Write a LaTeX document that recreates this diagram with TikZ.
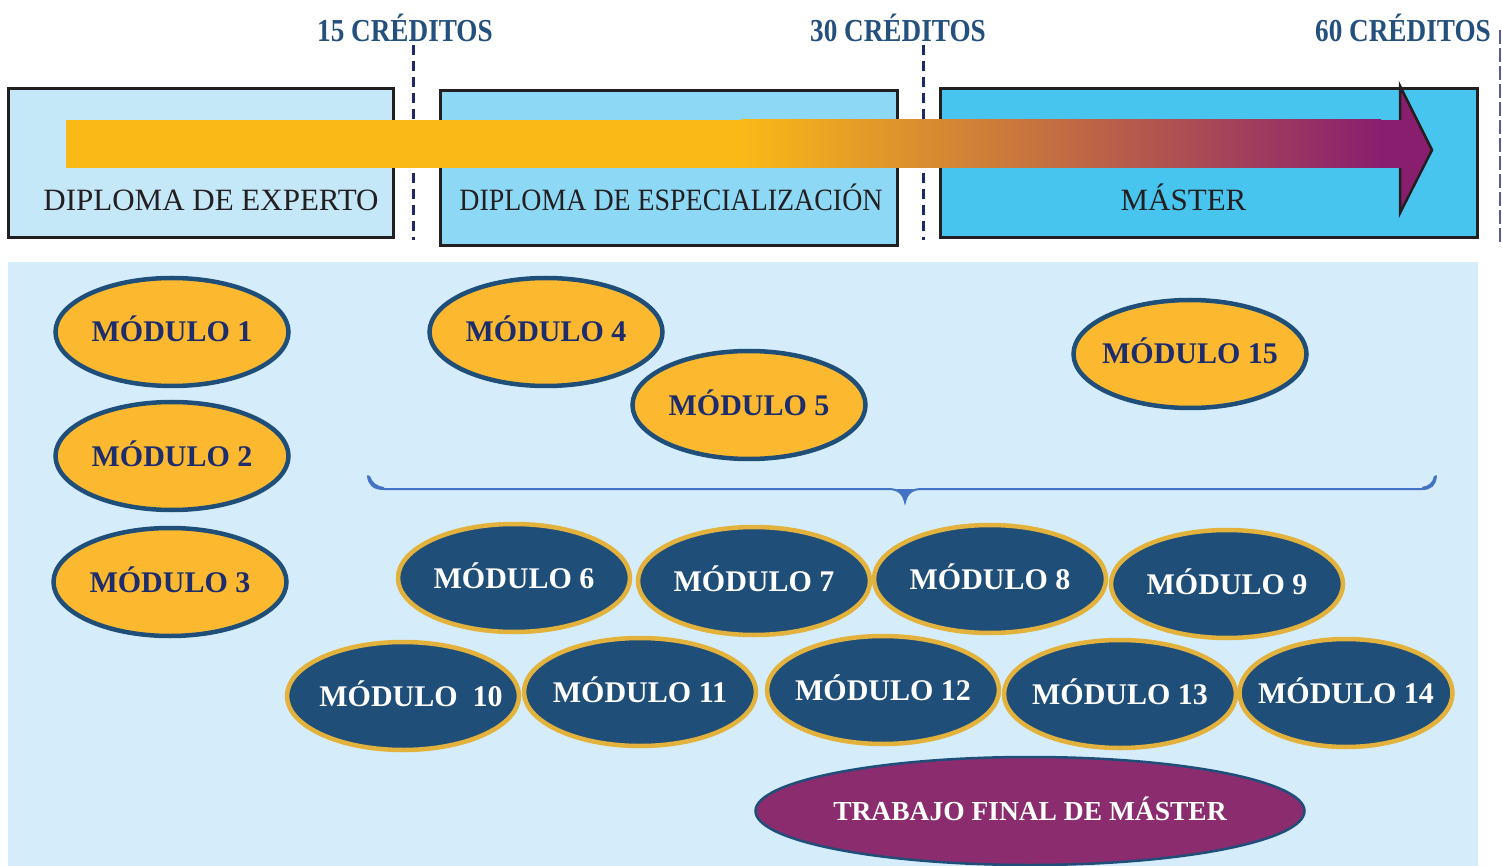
\documentclass[tikz,border=0pt]{standalone}
\usepackage{fontspec}
\setmainfont{Liberation Serif}
\usetikzlibrary{shapes.geometric}
\definecolor{boxA}{HTML}{C5E8F8}
\definecolor{boxB}{HTML}{8DD8F5}
\definecolor{boxC}{HTML}{48C5EF}
\definecolor{boxline}{HTML}{231F20}
\definecolor{panel}{HTML}{D5EDFA}
\definecolor{credit}{HTML}{24507E}
\definecolor{dashnavy}{HTML}{1B2A6B}
\definecolor{dashright}{HTML}{5A5A9A}
\definecolor{arrowyellow}{HTML}{FAB917}
\definecolor{arrowpurple}{HTML}{8A1E6E}
\definecolor{modyellow}{HTML}{FCB930}
\definecolor{modblue}{HTML}{1F4E79}
\definecolor{modgold}{HTML}{E3B23C}
\definecolor{navytext}{HTML}{1C2C6C}
\definecolor{tfmpurple}{HTML}{8A2C6E}
\definecolor{bracecol}{HTML}{4472C4}
\newcommand{\zw}[1]{\makebox[0pt]{#1}}
\tikzset{
  creditlbl/.style={text=credit, font=\bfseries\fontsize{32}{32}\selectfont, inner sep=0pt, text height=21pt, text depth=0pt},
  diplbox/.style={draw=boxline, line width=3pt, rectangle, inner sep=0pt},
  dipltext/.style={text=boxline, font=\fontsize{31}{31}\selectfont, inner sep=0pt, text height=20.5pt, text depth=0pt},
  creditline/.style={draw=dashnavy, line width=3pt, dash pattern=on 10pt off 6pt},
  ymod/.style={ellipse, draw=modblue, line width=4.5pt, fill=modyellow, minimum width=233pt, minimum height=108pt, inner sep=0pt, font=\bfseries\fontsize{30}{30}\selectfont, text=navytext, text height=20pt, text depth=0pt},
  bmod/.style={ellipse, draw=modgold, line width=4.5pt, fill=modblue, minimum width=232pt, minimum height=108pt, inner sep=0pt, font=\bfseries\fontsize{30}{30}\selectfont, text=white, text height=20pt, text depth=0pt},
  tfm/.style={ellipse, draw=modblue, line width=2.5pt, fill=tfmpurple, minimum width=549pt, minimum height=108pt, inner sep=0pt, font=\bfseries\fontsize{27.5}{27.5}\selectfont, text=white, text height=18pt, text depth=0pt},
  bracestyle/.style={draw=bracecol, line width=2pt, line cap=round},
}
\begin{document}
\begin{tikzpicture}[x=1pt,y=-1pt]
\useasboundingbox (0,0) rectangle (1502,866);
% credits labels
\node[creditlbl] (c15) at (405,31) {\scalebox{0.85}[1]{15 CRÉDITOS}};
\node[creditlbl] (c30) at (898,31) {\scalebox{0.85}[1]{30 CRÉDITOS}};
\node[creditlbl] (c60) at (1403,31) {\scalebox{0.85}[1]{60 CRÉDITOS}};
% dashed lines
\coordinate (d15a) at (413,45); \coordinate (d15b) at (413,240);
\coordinate (d30a) at (923,45); \coordinate (d30b) at (923,240);
\coordinate (d60a) at (1500,30); \coordinate (d60b) at (1500,246);
\draw[creditline] (d15a) -- (d15b);
\draw[creditline] (d30a) -- (d30b);
\draw[draw=dashright, line width=2.5pt, dash pattern=on 14pt off 4pt] (d60a) -- (d60b);
% boxes
\node[diplbox, fill=boxA, minimum width=385pt, minimum height=149pt] (bA) at (200.5,163.5) {};
\node[diplbox, fill=boxB, minimum width=457pt, minimum height=155pt] (bB) at (668.5,168.5) {};
\node[diplbox, fill=boxC, minimum width=537pt, minimum height=149pt] (bC) at (1208.5,163.5) {};
\node[dipltext] (tA) at (211,200) {DIPLOMA DE EXPERTO};
\node[dipltext] (tB) at (671,200) {\scalebox{0.9}[1]{DIPLOMA DE ESPECIALIZACIÓN}};
\node[dipltext] (tC) at (1183.5,200) {MÁSTER};
% arrow
\fill[arrowyellow] (66,120) rectangle (742,168);
\shade[left color=arrowyellow, right color=arrowpurple] (741,120) rectangle (1381,168);
\fill[arrowpurple] (1380,120) rectangle (1401,168);
\filldraw[fill=arrowpurple, draw=boxline, line width=2.5pt, line join=miter] (1400,120) -- (1400,86) -- (1432,150) -- (1400,213) -- (1400,168);
% panel
\fill[panel] (8,262) rectangle (1478,866);
% brace
\coordinate (brL) at (368,476);
\coordinate (brM) at (905,502);
\coordinate (brR) at (1436,476);
\draw[bracestyle] (brL) .. controls (369,485) and (374,489) .. (384,489) -- (888,489) .. controls (898,489) and (903,493) .. (brM) .. controls (907,493) and (912,489) .. (922,489) -- (1422,489) .. controls (1431,489) and (1435,485) .. (brR);
\fill[bracecol] (368,476) .. controls (369,485) and (374,489) .. (384,489) -- (384,487) .. controls (376,486) and (372,482) .. (370,476) -- cycle;
\fill[bracecol] (896,489) .. controls (901,491) and (904,496) .. (905,503) .. controls (906,496) and (909,491) .. (914,489) -- cycle;
\fill[bracecol] (1436,476) .. controls (1435,485) and (1431,489) .. (1422,489) -- (1422,487) .. controls (1429,486) and (1433,482) .. (1434,476) -- cycle;
% yellow modules
\node[ymod] (m1) at (172,332) {\zw{MÓDULO 1}};
\node[ymod] (m2) at (172,456) {\zw{MÓDULO 2}};
\node[ymod] (m3) at (170,582) {\zw{MÓDULO 3}};
\node[ymod] (m4) at (546,332) {\zw{MÓDULO 4}};
\node[ymod] (m5) at (749,405) {\zw{MÓDULO 5}};
\node[ymod] (m15) at (1190,354) {\zw{MÓDULO 15}};
% blue modules
\node[bmod] (m6) at (514,578) {\zw{MÓDULO 6}};
\node[bmod] (m7) at (754,581) {\zw{MÓDULO 7}};
\node[bmod] (m8) at (990,579) {\zw{MÓDULO 8}};
\node[bmod] (m9) at (1227,584) {\zw{MÓDULO 9}};
\node[bmod] (m10) at (403,696) {\zw{\hspace{16pt}MÓDULO\ \ 10}};
\node[bmod] (m11) at (640,692) {\zw{MÓDULO 11}};
\node[bmod] (m12) at (883,690) {\zw{MÓDULO 12}};
\node[bmod] (m13) at (1120,694) {\zw{MÓDULO 13}};
\node[bmod, minimum width=213pt] (m14) at (1346,693) {\zw{MÓDULO 14}};
% TFM
\node[tfm] (tfmnode) at (1030,811) {\zw{TRABAJO FINAL DE MÁSTER}};
\end{tikzpicture}
\end{document}
